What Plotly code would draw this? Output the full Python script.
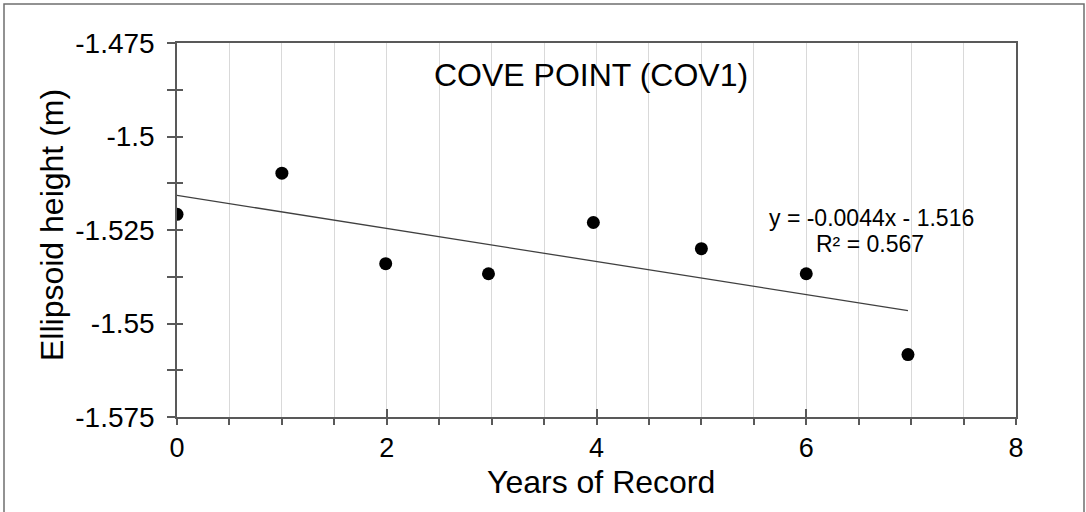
import numpy as np
import plotly.graph_objects as go

years = [0.0, 1.0, 1.99, 2.97, 3.97, 5.0, 6.0, 6.97]
heights = [-1.5208, -1.5098, -1.5340, -1.5367, -1.5230, -1.5300, -1.5367, -1.5583]
x_tickvals = [0, 2, 4, 6, 8]
x_ticktext = ["0", "2", "4", "6", "8"]
y_tickvals = [-1.575, -1.55, -1.525, -1.5, -1.475]
y_ticktext = ["-1.575", "-1.55", "-1.525", "-1.5", "-1.475"]
title_text = "COVE POINT (COV1)"
eq_text = "y = -0.0044x - 1.516"
r2_text = "R² = 0.567"

slope, intercept = np.polyfit(years, heights, 1)
trend_x = [years[0], years[-1]]
trend_y = [slope * v + intercept for v in trend_x]

FONT = "Liberation Sans, Arial, sans-serif"
AX = "#595959"
XR = [0, 8]
YR = [-1.575, -1.475]

fig = go.Figure()
fig.add_trace(go.Scatter(x=trend_x, y=trend_y, mode="lines",
                         line=dict(color="#404040", width=1.3), hoverinfo="skip",
                         showlegend=False))
fig.add_trace(go.Scatter(x=years, y=heights, mode="markers",
                         marker=dict(color="black", size=13), showlegend=False))
fig.add_trace(go.Scatter(x=[None], y=[None], xaxis="x2", yaxis="y2", showlegend=False))

fig.update_layout(
    width=1086, height=512,
    margin=dict(l=177, r=70, t=43, b=95),
    paper_bgcolor="white", plot_bgcolor="white",
    font=dict(family=FONT, color="black"),
    xaxis=dict(range=XR, tickvals=x_tickvals, ticktext=x_ticktext,
               ticks="outside", ticklen=6, tickwidth=1.5, tickcolor=AX,
               showline=True, linecolor=AX, linewidth=1.5, mirror=True,
               showgrid=True, gridcolor="#d9d9d9", gridwidth=1,
               zeroline=False, tickfont=dict(size=27, family=FONT),
               ticklabelstandoff=0,
               minor=dict(dtick=0.5, tick0=0, ticks="outside", ticklen=6,
                          tickwidth=1.5, tickcolor=AX, showgrid=True,
                          gridcolor="#d9d9d9", gridwidth=1)),
    yaxis=dict(range=YR, tickvals=y_tickvals, ticktext=y_ticktext,
               ticks="outside", ticklen=8, tickwidth=1.5, tickcolor=AX,
               showline=True, linecolor=AX, linewidth=1.5, mirror=True,
               showgrid=False, zeroline=False,
               tickfont=dict(size=28, family=FONT), ticklabelstandoff=7,
               minor=dict(tickvals=[-1.5625, -1.5375, -1.5125, -1.4875],
                          ticks="outside", ticklen=8, tickwidth=1.5,
                          tickcolor=AX, showgrid=False)),
    xaxis2=dict(range=XR, overlaying="x", tickvals=x_tickvals, ticks="inside",
                ticklen=8, tickwidth=1.5, tickcolor=AX, showticklabels=False,
                showgrid=False, zeroline=False, showline=False, side="bottom",
                anchor="y2"),
    yaxis2=dict(range=YR, overlaying="y", tickvals=[-1.575, -1.5625, -1.55, -1.5375, -1.525,
                                                    -1.5125, -1.5, -1.4875, -1.475],
                ticks="inside", ticklen=6, tickwidth=1.5, tickcolor=AX,
                showticklabels=False, showgrid=False, zeroline=False,
                showline=False, side="left", anchor="x2"),
    shapes=[dict(type="rect", xref="paper", yref="paper",
                 x0=(4 - 177) / 839, x1=(1084 - 177) / 839,
                 y0=(417 - 520) / 374, y1=(417 - 4) / 374,
                 line=dict(color="#6f6f6f", width=1.5), fillcolor="rgba(0,0,0,0)",
                 layer="below")],
    annotations=[
        dict(text=title_text, xref="paper", yref="paper",
             x=(591 - 177) / 839, y=(417 - 75) / 374, showarrow=False,
             xanchor="center", yanchor="middle", font=dict(size=32, family=FONT)),
        dict(text=eq_text, xref="paper", yref="paper",
             x=(871 - 177) / 839, y=(417 - 218) / 374, showarrow=False,
             xanchor="center", yanchor="middle", font=dict(size=23, family=FONT)),
        dict(text=r2_text, xref="paper", yref="paper",
             x=(870 - 177) / 839, y=(417 - 244) / 374, showarrow=False,
             xanchor="center", yanchor="middle", font=dict(size=23, family=FONT)),
        dict(text="Years of Record", xref="paper", yref="paper",
             x=(601 - 177) / 839, y=(417 - 482) / 374, showarrow=False,
             xanchor="center", yanchor="middle", font=dict(size=32, family=FONT)),
        dict(text="Ellipsoid height (m)", xref="paper", yref="paper",
             x=(52 - 177) / 839, y=(417 - 225) / 374, showarrow=False,
             textangle=-90, xanchor="center", yanchor="middle",
             font=dict(size=32, family=FONT)),
    ],
)

fig.write_html("out.html")
